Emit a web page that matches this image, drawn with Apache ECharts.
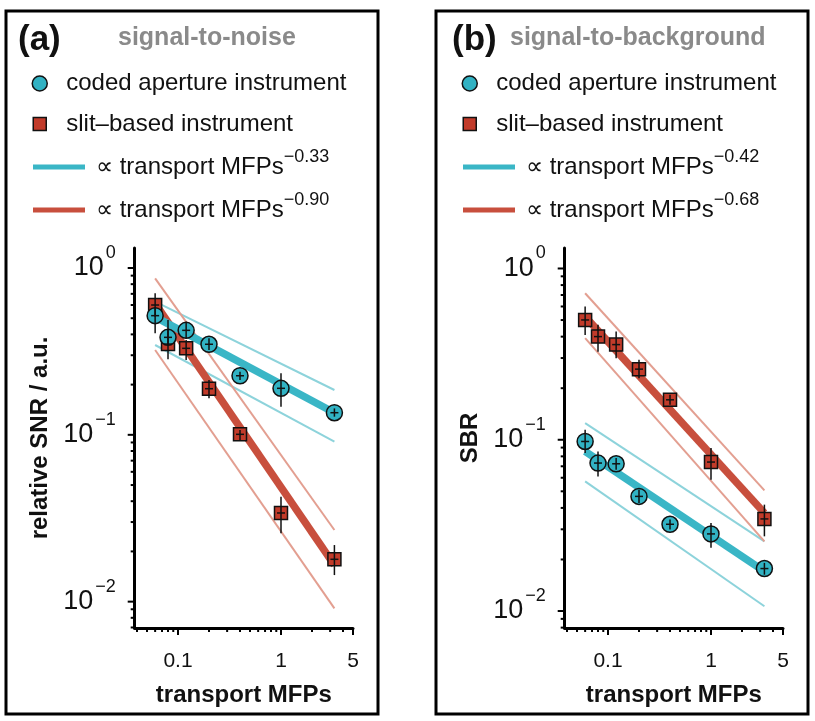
<!DOCTYPE html>
<html><head><meta charset="utf-8">
<script src="https://cdn.jsdelivr.net/npm/echarts@6/dist/echarts.min.js"></script>
<style>html,body{margin:0;padding:0;background:#fff;}#c{width:815px;height:721px;}</style>
</head><body><div id="c"></div>
<script>
// ---------------- data ----------------
const mfp = [0.06, 0.08, 0.12, 0.2, 0.4, 1.0, 3.3];           // transport MFPs
// panel (a) signal-to-noise
const snrCoded   = [0.518, 0.384, 0.423, 0.349, 0.226, 0.190, 0.1357];
const snrCodedLo = [0.406, 0.345, 0.379, 0.322, 0.213, 0.1474, 0.1285];
const snrCodedHi = [0.573, 0.425, 0.477, 0.379, 0.239, 0.234, 0.144];
const snrSlit    = [0.600, 0.350, 0.330, 0.189, 0.1007, 0.0340, 0.01794];
const snrSlitLo  = [0.511, 0.2836, 0.281, 0.1654, 0.0930, 0.02567, 0.01443];
const snrSlitHi  = [0.705, 0.488, 0.370, 0.213, 0.1068, 0.0425, 0.02184];
// fit lines (values at both ends of fit range)
const fitRange = [0.06, 3.3];
const snrCodedFit    = [0.509, 0.1357];
const snrCodedFitUp  = [0.628, 0.1856];
const snrCodedFitLow = [0.3455, 0.0909];
const snrSlitFit     = [0.614, 0.01657];
const snrSlitFitUp   = [0.867, 0.02687];
const snrSlitFitLow  = [0.3224, 0.00912];
// panel (b) signal-to-background
const sbrCoded   = [0.0977, 0.0731, 0.0724, 0.0467, 0.0321, 0.0282, 0.0177];
const sbrCodedLo = [0.0836, 0.0611, 0.0669, 0.0427, 0.0299, 0.0234, 0.0163];
const sbrCodedHi = [0.1144, 0.0855, 0.0782, 0.0511, 0.0342, 0.0327, 0.0191];
const sbrSlit    = [0.5006, 0.4002, 0.3594, 0.2584, 0.1711, 0.0741, 0.0345];
const sbrSlitLo  = [0.4095, 0.327, 0.2996, 0.229, 0.160, 0.0584, 0.0273];
const sbrSlitHi  = [0.599, 0.4686, 0.428, 0.2928, 0.183, 0.0895, 0.0418];
const sbrCodedFit    = [0.0855, 0.01706];
const sbrCodedFitUp  = [0.1251, 0.0255];
const sbrCodedFitLow = [0.0571, 0.01067];
const sbrSlitFit     = [0.5236, 0.0374];
const sbrSlitFitUp   = [0.7166, 0.0506];
const sbrSlitFitLow  = [0.3917, 0.0255];
// texts
const panelLetters = ['(a)', '(b)'];
const panelTitles = ['signal-to-noise', 'signal-to-background'];
const yNames = ['relative SNR / a.u.', 'SBR'];
const xName = 'transport MFPs';
const markerNames = ['coded aperture instrument', 'slit–based instrument'];
const fitExponents = [['−0.33', '−0.90'], ['−0.42', '−0.68']];
// ticks
const xMajorTicks = [0.1, 1, 5];
const xMinorTicks = [0.04,0.05,0.06,0.07,0.08,0.09,0.2,0.3,0.4,0.5,0.6,0.7,0.8,0.9,2,3,4];
const yMajorTicks = [0.01, 0.1, 1];
const yMinorTicks = [0.007,0.008,0.009,0.02,0.03,0.04,0.05,0.06,0.07,0.08,0.09,0.2,0.3,0.4,0.5,0.6,0.7,0.8,0.9];
const xRange = [0.038, 5];
const yRanges = [[0.00695, 1.318], [0.00796, 1.317]];

// ---------------- style ----------------
const FONT = '"Liberation Sans", Arial, Helvetica, sans-serif';
const C_CYAN = '#31b2c3', C_RED = '#c23b2a';
const C_CYAN_FIT = '#3ab6c6', C_RED_FIT = '#c84f3d';
const C_CYAN_BAND = '#8dd3db', C_RED_BAND = '#e39f91';
const DX = 430;

const panels = [
  {coded: snrCoded, codedLo: snrCodedLo, codedHi: snrCodedHi, slit: snrSlit, slitLo: snrSlitLo, slitHi: snrSlitHi,
   cFit: snrCodedFit, cUp: snrCodedFitUp, cLow: snrCodedFitLow, sFit: snrSlitFit, sUp: snrSlitFitUp, sLow: snrSlitFitLow},
  {coded: sbrCoded, codedLo: sbrCodedLo, codedHi: sbrCodedHi, slit: sbrSlit, slitLo: sbrSlitLo, slitHi: sbrSlitHi,
   cFit: sbrCodedFit, cUp: sbrCodedFitUp, cLow: sbrCodedFitLow, sFit: sbrSlitFit, sUp: sbrSlitFitUp, sLow: sbrSlitFitLow}
];

function pairs(xs, ys) { return xs.map((x, i) => [x, ys[i]]); }
function isDecade(v) { const l = Math.log10(v); return Math.abs(l - Math.round(l)) < 1e-6; }

function renderTicks(params, api) {
  const cs = params.coordSys;
  const kind = api.value(2);
  if (kind <= 2) {
    const x = api.coord([api.value(0), api.value(1)])[0];
    if (x < cs.x - 1 || x > cs.x + cs.width + 1) return;
    const y0 = cs.y + cs.height, len = kind === 1 ? 7 : 4;
    return {type: 'line', shape: {x1: x, y1: y0, x2: x, y2: y0 + len}, style: {stroke: '#000', lineWidth: 2}};
  } else {
    const y = api.coord([api.value(0), api.value(1)])[1];
    if (y < cs.y - 1 || y > cs.y + cs.height + 1) return;
    const x0 = cs.x, len = kind === 3 ? 7 : 4;
    return {type: 'line', shape: {x1: x0 - len, y1: y, x2: x0, y2: y}, style: {stroke: '#000', lineWidth: 2}};
  }
}
function renderErr(params, api) {
  const x = api.value(0), y = api.value(1), lo = api.value(2), hi = api.value(3);
  const c = api.coord([x, y]), t = api.coord([x, hi]), b = api.coord([x, lo]);
  return {type: 'group', children: [
    {type: 'line', shape: {x1: c[0], y1: t[1], x2: c[0], y2: b[1]}, style: {stroke: '#111', lineWidth: 1.5}},
    {type: 'line', shape: {x1: c[0] - 4, y1: c[1], x2: c[0] + 4, y2: c[1]}, style: {stroke: '#111', lineWidth: 1.5}}
  ]};
}

const grids = [], xAxes = [], yAxes = [], series = [], legends = [], titles = [], graphics = [];
const tickData = [].concat(
  xMajorTicks.map(v => [v, 0.1, 1]), xMinorTicks.map(v => [v, 0.1, 2]),
  yMajorTicks.map(v => [0.1, v, 3]), yMinorTicks.map(v => [0.1, v, 4]));

panels.forEach((p, k) => {
  const off = k * DX;
  grids.push({left: 134.7 + off, width: 218.3, top: 248, height: 380, containLabel: false});
  xAxes.push({type: 'log', gridIndex: k, min: xRange[0], max: xRange[1], logBase: 10,
    name: xName, nameLocation: 'middle', nameGap: 55,
    nameTextStyle: {fontSize: 24, fontWeight: 'bold', color: '#111', fontFamily: FONT},
    axisLine: {show: true, lineStyle: {color: '#000', width: 3}},
    axisTick: {show: false}, splitLine: {show: false}, minorTick: {show: false},
    axisLabel: {margin: 23, fontSize: 21, color: '#111', fontFamily: FONT, showMinLabel: true, showMaxLabel: true,
      formatter: v => (xMajorTicks.some(t => Math.abs(t - v) / t < 1e-6) ? String(v) : '')}
  });
  yAxes.push({type: 'log', gridIndex: k, min: yRanges[k][0], max: yRanges[k][1], logBase: 10,
    name: yNames[k], nameLocation: 'middle', nameGap: 82, nameRotate: 90,
    nameTextStyle: {fontSize: 24, fontWeight: 'bold', color: '#111', fontFamily: FONT},
    axisLine: {show: true, lineStyle: {color: '#000', width: 3}},
    axisTick: {show: false}, splitLine: {show: false}, minorTick: {show: false},
    axisLabel: {margin: 19, color: '#111', fontFamily: FONT, showMinLabel: true, showMaxLabel: true,
      formatter: v => isDecade(v) ? '{b|10}{s|' + String(Math.round(Math.log10(v))).replace('-', '−') + '}' : '',
      rich: {b: {fontSize: 27, lineHeight: 48, fontFamily: FONT, color: '#111'},
             s: {fontSize: 18, lineHeight: 14, verticalAlign: 'top', padding: [0, 0, 0, 2], fontFamily: FONT, color: '#111'}}}
  });
  const ax = {xAxisIndex: k, yAxisIndex: k};
  const names = ['band_c_up_' + k, 'band_c_low_' + k, 'band_s_up_' + k, 'band_s_low_' + k];
  [[p.cUp, C_CYAN_BAND], [p.cLow, C_CYAN_BAND], [p.sUp, C_RED_BAND], [p.sLow, C_RED_BAND]].forEach((b, i) => {
    series.push(Object.assign({type: 'line', name: names[i], data: pairs(fitRange, b[0]), symbol: 'none', silent: true,
      lineStyle: {color: b[1], width: 2}, z: 1, animation: false}, ax));
  });
  series.push(Object.assign({type: 'line', name: 'fit_s_' + k, data: pairs(fitRange, p.sFit), symbol: 'none', silent: true,
    lineStyle: {color: C_RED_FIT, width: 7.5}, itemStyle: {color: C_RED_FIT}, z: 2, animation: false}, ax));
  series.push(Object.assign({type: 'line', name: 'fit_c_' + k, data: pairs(fitRange, p.cFit), symbol: 'none', silent: true,
    lineStyle: {color: C_CYAN_FIT, width: 7.5}, itemStyle: {color: C_CYAN_FIT}, z: 2, animation: false}, ax));
  series.push(Object.assign({type: 'scatter', name: markerNames[1], data: pairs(mfp, p.slit), symbol: 'rect', symbolSize: 13,
    itemStyle: {color: C_RED, borderColor: '#111', borderWidth: 1.5, opacity: 1}, z: 3, animation: false}, ax));
  series.push(Object.assign({type: 'scatter', name: markerNames[0], data: pairs(mfp, p.coded), symbol: 'circle', symbolSize: 16,
    itemStyle: {color: C_CYAN, borderColor: '#111', borderWidth: 1.5, opacity: 1}, z: 4, animation: false}, ax));
  series.push(Object.assign({type: 'custom', name: 'err_s_' + k, renderItem: renderErr, z: 5, silent: true, animation: false,
    data: mfp.map((x, i) => [x, p.slit[i], p.slitLo[i], p.slitHi[i]])}, ax));
  series.push(Object.assign({type: 'custom', name: 'err_c_' + k, renderItem: renderErr, z: 6, silent: true, animation: false,
    data: mfp.map((x, i) => [x, p.coded[i], p.codedLo[i], p.codedHi[i]])}, ax));
  series.push(Object.assign({type: 'custom', name: 'ticks_' + k, renderItem: renderTicks, z: 6, silent: true, clip: false,
    animation: false, data: tickData}, ax));

  // legends
  const lgBase = {orient: 'vertical', padding: 0, selectedMode: false, itemGap: 0};
  const markerText = {fontSize: 24, color: '#111', fontFamily: FONT,
    rich: {m: {fontSize: 24, lineHeight: 24, padding: [0, 0, 0, 14], fontFamily: FONT, color: '#111'}}};
  legends.push(Object.assign({}, lgBase, {left: 31.5 + off, top: 71.5, itemWidth: 15, itemHeight: 15,
    formatter: n => '{m|' + n + '}', textStyle: markerText,
    data: [{name: markerNames[0], icon: 'circle', itemStyle: {color: C_CYAN, borderColor: '#111', borderWidth: 1.5}}]}));
  legends.push(Object.assign({}, lgBase, {left: 32.5 + off, top: 112, itemWidth: 13, itemHeight: 13,
    formatter: n => '{m|' + n + '}', textStyle: Object.assign({}, markerText, {rich: {m: {fontSize: 24, lineHeight: 24,
      padding: [0, 0, 0, 15], fontFamily: FONT, color: '#111'}}}),
    data: [{name: markerNames[1], icon: 'rect', itemStyle: {color: C_RED, borderColor: '#111', borderWidth: 1.5}}]}));
  const fitNames = ['fit_c_' + k, 'fit_s_' + k];
  const fitCols = [C_CYAN_FIT, C_RED_FIT];
  [148, 191].forEach((top, i) => {
    legends.push(Object.assign({}, lgBase, {left: 33 + off, top: top, itemWidth: 52, itemHeight: 5, symbolKeepAspect: false,
      data: [{name: fitNames[i], icon: 'rect', itemStyle: {color: fitCols[i], borderWidth: 0}}],
      formatter: () => '{t|∝ transport MFPs}{s|' + fitExponents[k][i] + '}',
      textStyle: {fontSize: 24, color: '#111', fontFamily: FONT, rich: {
        t: {fontSize: 24, lineHeight: 38, padding: [0, 0, 0, 6], fontFamily: FONT, color: '#111'},
        s: {fontSize: 18, lineHeight: 16, verticalAlign: 'top', fontFamily: FONT, color: '#111'}}}}));
  });
  titles.push({text: panelLetters[k], left: (k ? 452 : 18), top: 23, padding: 0,
    textStyle: {fontSize: 35, fontWeight: 'bold', color: '#111', fontFamily: FONT, lineHeight: 34}});
  titles.push({text: panelTitles[k], left: (k ? 510 : 118), top: 25, padding: 0,
    textStyle: {fontSize: 25, fontWeight: 'bold', color: '#8a8a8a', fontFamily: FONT, lineHeight: 26}});
  graphics.push({type: 'rect', left: 5 + off - 1.5, top: 10 - 1.5, silent: true,
    shape: {width: 372, height: 703}, style: {fill: 'none', stroke: '#000', lineWidth: 3}});
});

const chart = echarts.init(document.getElementById('c'), null, {renderer: 'canvas'});
chart.setOption({
  animation: false,
  backgroundColor: '#fff',
  textStyle: {fontFamily: FONT},
  title: titles, legend: legends, grid: grids, xAxis: xAxes, yAxis: yAxes, series: series, graphic: graphics
});
</script></body></html>
